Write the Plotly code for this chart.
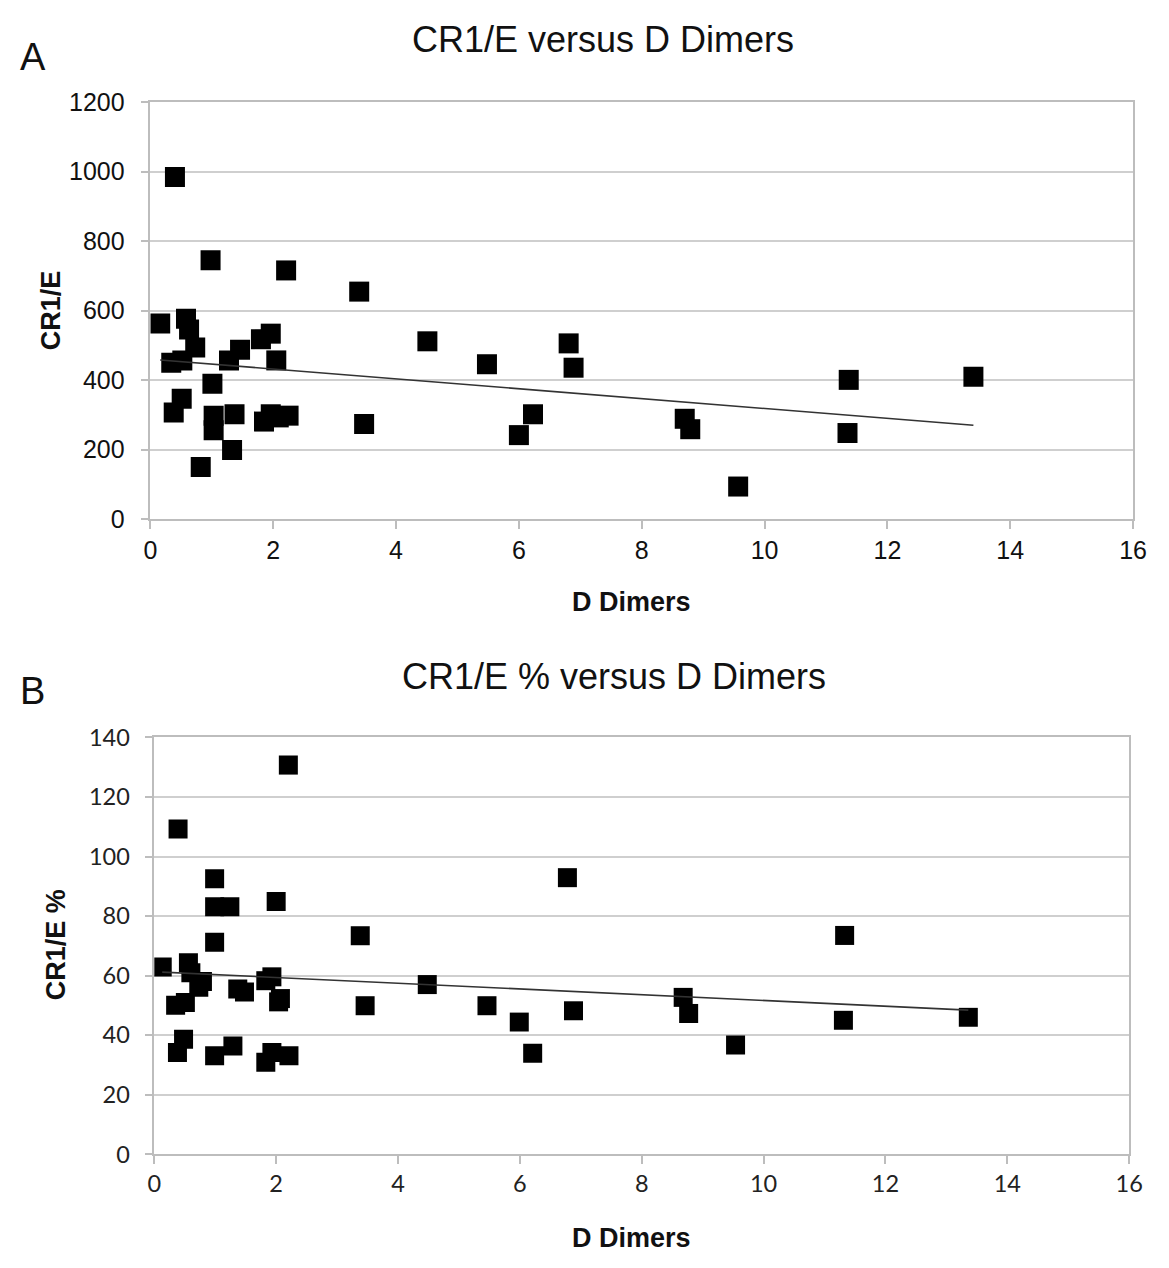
import numpy as np
import plotly.graph_objects as go

# ---------------- data ----------------
ddimer_a = [0.40, 0.98, 2.21, 3.40, 0.16, 0.58, 0.63, 0.73, 0.34, 0.52, 4.51, 1.28, 1.46, 1.80,
            1.96, 2.05, 1.01, 0.51, 0.38, 1.03, 1.03, 1.37, 1.33, 0.82, 1.85, 1.96, 2.09, 2.25,
            3.48, 5.48, 6.81, 6.89, 6.23, 6.00, 8.70, 8.79, 9.57, 11.37, 11.35, 13.40]
cr1e_a = [985, 745, 716, 655, 563, 577, 546, 494, 450, 457, 512, 457, 488, 518,
          534, 457, 390, 347, 307, 298, 256, 302, 199, 150, 281, 302, 293, 298,
          274, 446, 506, 436, 302, 242, 289, 259, 94, 401, 248, 410]

ddimer_b = [2.20, 0.39, 0.99, 0.99, 1.24, 2.00, 0.99, 3.38, 0.13, 0.56, 0.60, 0.79, 0.73, 0.35,
            0.51, 1.37, 1.48, 1.83, 1.93, 2.07, 2.04, 4.48, 3.46, 0.48, 0.38, 0.99, 1.29, 1.83,
            1.93, 2.21, 6.78, 11.33, 5.46, 5.99, 6.21, 6.88, 8.68, 8.77, 9.54, 11.31, 13.36]
cr1e_pct_b = [130.7, 109.2, 92.5, 83.1, 83.1, 84.9, 71.2, 73.4, 62.9, 64.3, 61.0, 58.0, 56.1, 50.1,
              51.0, 55.5, 54.5, 58.3, 59.6, 52.3, 51.2, 57.0, 49.9, 38.6, 34.2, 33.1, 36.4, 30.9,
              34.2, 33.1, 92.9, 73.5, 49.9, 44.4, 33.9, 48.2, 52.7, 47.3, 36.7, 45.0, 46.0]

x_ticks = [0, 2, 4, 6, 8, 10, 12, 14, 16]
y_ticks_a = [0, 200, 400, 600, 800, 1000, 1200]
y_ticks_b = [0, 20, 40, 60, 80, 100, 120, 140]

title_a = "CR1/E versus D Dimers"
title_b = "CR1/E % versus D Dimers"

# ---------------- trendlines (least squares) ----------------
def trend(xs, ys):
    xs = np.asarray(xs, float)
    ys = np.asarray(ys, float)
    m, c = np.polyfit(xs, ys, 1)
    xe = np.array([xs.min(), xs.max()])
    return xe, m * xe + c

ta_x, ta_y = trend(ddimer_a, cr1e_a)
tb_x, tb_y = trend(ddimer_b, cr1e_pct_b)

W, H = 1169, 1268
fig = go.Figure()

mk = dict(symbol="square", size=20, color="black", line=dict(width=0))
fig.add_trace(go.Scatter(x=ddimer_a, y=cr1e_a, mode="markers", marker=mk,
                         xaxis="x", yaxis="y", showlegend=False))
fig.add_trace(go.Scatter(x=ta_x, y=ta_y, mode="lines", line=dict(color="#333333", width=1.6),
                         xaxis="x", yaxis="y", showlegend=False))
fig.add_trace(go.Scatter(x=ddimer_b, y=cr1e_pct_b, mode="markers", marker=dict(mk, size=19),
                         xaxis="x2", yaxis="y2", showlegend=False))
fig.add_trace(go.Scatter(x=tb_x, y=tb_y, mode="lines", line=dict(color="#333333", width=1.6),
                         xaxis="x2", yaxis="y2", showlegend=False))

axis_common = dict(showline=True, linecolor="#bdbdbd", linewidth=1.5, mirror=True,
                   ticks="outside", ticklen=8, tickcolor="#bdbdbd", tickwidth=1.5,
                   zeroline=False)

fontA = dict(family="Liberation Sans, Arial, sans-serif", size=25, color="#111111")
fontB = dict(family="Lato, sans-serif", size=23.5, color="#222222")

fig.update_layout(
    width=W, height=H,
    margin=dict(l=0, r=0, t=0, b=0),
    paper_bgcolor="white", plot_bgcolor="white",
    showlegend=False,
    xaxis=dict(axis_common, domain=[146 / W, 1146.7 / W], range=[0, 16], tickvals=x_ticks,
               showgrid=False, tickfont=fontA, ticklabelstandoff=0, anchor="y"),
    yaxis=dict(axis_common, domain=[1 - 516 / H, 1 - 89.3 / H], range=[0, 1200], tickvals=y_ticks_a,
               showgrid=True, gridcolor="#cfcfcf", gridwidth=1.5, tickfont=fontA,
               ticklabelstandoff=11, anchor="x"),
    xaxis2=dict(axis_common, domain=[150 / W, 1142.7 / W], range=[0, 16], tickvals=x_ticks,
                showgrid=False, tickfont=fontB, ticklabelstandoff=0, anchor="y2"),
    yaxis2=dict(axis_common, domain=[1 - 1166 / H, 1 - 739.3 / H], range=[0, 140], tickvals=y_ticks_b,
                showgrid=True, gridcolor="#cfcfcf", gridwidth=1.5, tickfont=fontB,
                ticklabelstandoff=10, anchor="x2"),
)

def ann(text, x, y, size, bold=False, angle=0, xanchor="center", family="Liberation Sans, Arial, sans-serif"):
    fig.add_annotation(text=f"<b>{text}</b>" if bold else text,
                       x=x / W, y=1 - y / H, xref="paper", yref="paper",
                       xanchor=xanchor, yanchor="middle", showarrow=False, textangle=angle,
                       font=dict(family=family, size=size, color="#111111"))

ann(title_a, 607, 25, 36)
ann("A", 26, 43, 38)
ann(title_b, 618, 677, 36)
ann("B", 26, 692, 38)
ann("D Dimers", 636, 601, 27, bold=True)
ann("D Dimers", 636, 1252, 27, bold=True)
ann("CR1/E", 45, 302, 27, bold=True, angle=-90)
ann("CR1/E %", 50, 952, 27, bold=True, angle=-90)

fig.write_html("out.html", config={"displayModeBar": False},
               post_script="document.body.style.margin='0';document.body.style.overflow='hidden';")
